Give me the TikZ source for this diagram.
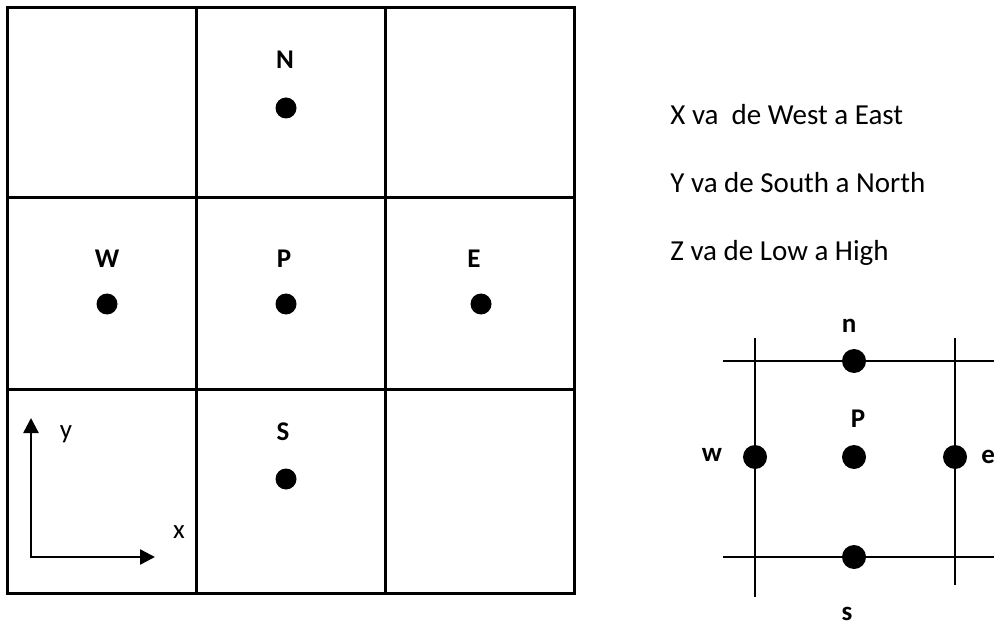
\documentclass[tikz,border=0pt]{standalone}
\usepackage{fontspec}
\setmainfont{Carlito}
\usetikzlibrary{arrows.meta}
\begin{document}
\begin{tikzpicture}[x=0.5pt,y=-0.5pt,
  gridline/.style={line width=1.5pt},
  thinline/.style={line width=0.85pt},
  axisline/.style={line width=1.2pt,{Triangle[length=7.5pt,width=7.5pt]}-{Triangle[length=7.5pt,width=7.5pt]}},
  bigdot/.style={circle,fill=black,inner sep=0pt,minimum size=10.5pt},
  smalldot/.style={circle,fill=black,inner sep=0pt,minimum size=12pt},
  lbl/.style={font=\fontsize{13.5}{16}\selectfont\bfseries,anchor=base,inner sep=0pt},
  axlbl/.style={font=\fontsize{13.5}{16}\selectfont,anchor=base,inner sep=0pt},
  txt/.style={font=\fontsize{14.5}{17}\selectfont,anchor=base west,inner sep=0pt}]
\useasboundingbox (0,0) rectangle (994,625);

% main grid
\draw[gridline] (7,8) rectangle (574,593);
\draw[gridline] (196,8) -- (196,593);
\draw[gridline] (385,8) -- (385,593);
\draw[gridline] (7,198) -- (574,198);
\draw[gridline] (7,389) -- (574,389);

% nodes of the grid
\node[bigdot] (N) at (286,108) {};
\node[bigdot] (W) at (107,304) {};
\node[bigdot] (P) at (286,304) {};
\node[bigdot] (E) at (481,304) {};
\node[bigdot] (S) at (286,479) {};
\node[lbl] (Nl) at (285,69) {N};
\node[lbl] (Wl) at (107,268) {W};
\node[lbl] (Pl) at (284,268) {P};
\node[lbl] (El) at (474,268) {E};
\node[lbl] (Sl) at (283,440) {S};

% axes
\coordinate (O) at (31,557);
\coordinate (ytip) at (31,418);
\coordinate (xtip) at (155,557);
\draw[axisline] (ytip) -- (O) -- (xtip);
\node[axlbl] (yl) at (66,438) {y};
\node[axlbl] (xl) at (179,538) {x};

% texts
\node[txt] (tx) at (670,125) {X va\ \ de West a East};
\node[txt] (ty) at (670,193) {Y va de South a North};
\node[txt] (tz) at (670,261) {Z va de Low a High};

% small control volume
\coordinate (h1a) at (723,361);
\coordinate (h1b) at (1000,361);
\coordinate (h2a) at (723,557);
\coordinate (h2b) at (1000,557);
\coordinate (v1a) at (755,338);
\coordinate (v1b) at (755,597);
\coordinate (v2a) at (955,338);
\coordinate (v2b) at (955,585);
\draw[thinline] (h1a) -- (h1b);
\draw[thinline] (h2a) -- (h2b);
\draw[thinline] (v1a) -- (v1b);
\draw[thinline] (v2a) -- (v2b);

\node[smalldot] (n) at (854,361) {};
\node[smalldot] (p) at (854,457) {};
\node[smalldot] (w) at (755,457) {};
\node[smalldot] (e) at (955,457) {};
\node[smalldot] (s) at (854,557) {};
\node[lbl] (nl) at (849,332) {n};
\node[lbl] (pl) at (858,427) {P};
\node[lbl] (wl) at (712,461) {w};
\node[lbl,anchor=base west] (el) at (981,463) {e};
\node[lbl] (sl) at (847,620) {s};
\end{tikzpicture}
\end{document}
